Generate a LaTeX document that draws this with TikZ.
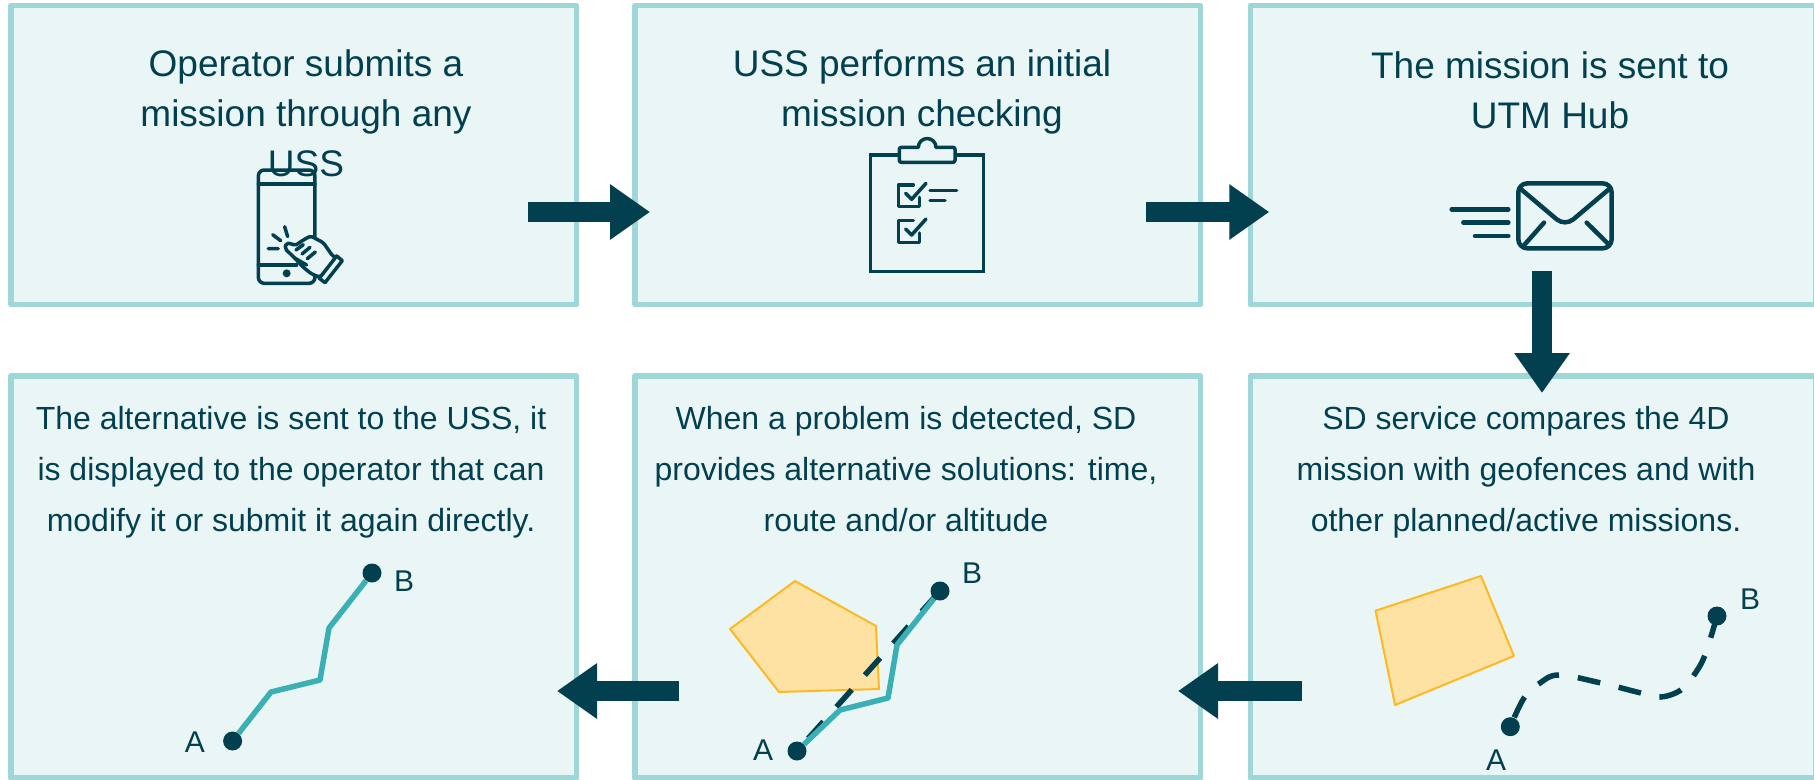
\documentclass[tikz,border=0pt]{standalone}
\usepackage{fontspec}
\setmainfont{Liberation Sans}
\usetikzlibrary{arrows.meta}
\definecolor{darkblue}{HTML}{03404F}
\definecolor{boxfill}{HTML}{EAF6F6}
\definecolor{boxline}{HTML}{9FD6D8}
\definecolor{routeteal}{HTML}{3AAFB4}
\definecolor{zonefill}{HTML}{FDE2A3}
\definecolor{zoneline}{HTML}{FDB924}
\tikzset{
	stepbox/.style={draw=boxline,fill=boxfill,line width=5.5pt,minimum width=565.5pt,inner sep=0pt,outer sep=0pt},
	toptext/.style={text=darkblue,align=center,font=\fontsize{37}{50}\selectfont},
	lowtext/.style={text=darkblue,align=center,font=\fontsize{32}{51}\selectfont},
	flowarrow/.style={draw=darkblue,line width=20pt,-{Triangle[length=40pt,width=53pt]}},
	icon/.style={draw=darkblue,line width=3.5pt,line cap=round,line join=round},
	zone/.style={draw=zoneline,fill=zonefill,line width=2pt,line join=round},
	route/.style={draw=routeteal,line width=5.5pt,line join=round},
	plan/.style={draw=darkblue,line width=5.5pt},
	pin/.style={circle,fill=darkblue,minimum size=19pt,inner sep=0pt},
	pinlabel/.style={text=darkblue,inner sep=0pt,font=\fontsize{30}{30}\selectfont},
}
\begin{document}
\begin{tikzpicture}[x=1pt,y=-1pt,line join=round]
	\useasboundingbox (0,0) rectangle (1814,779);
	% Upper row
	\node[stepbox,minimum height=299pt] (box1) at (293.75,155) {};
	\node[stepbox,minimum height=299pt] (box2) at (917.75,155) {};
	\node[stepbox,minimum height=299pt] (box3) at (1533,155) {};
	% Lower row
	\node[stepbox,minimum height=402pt] (box4) at (1533,577) {};
	\node[stepbox,minimum height=402pt] (box5) at (917.75,577) {};
	\node[stepbox,minimum height=402pt] (box6) at (293.75,577) {};
	
	\node[toptext] (text1) at (306,113) {Operator submits a\\mission through any\\USS};
	\node[toptext] (text2) at (922,91.5) {USS performs an initial\\mission checking};
	\node[toptext] (text3) at (1550,90) {The mission is sent to\\UTM Hub};
	\node[lowtext] (text4) at (1526,472.5) {SD service compares the 4D\\mission with geofences and with\\other planned/active missions.};
	\node[lowtext] (text5) at (906,469.5) {When a problem is detected, SD\\provides alternative solutions: time,\\route and/or altitude};
	\node[lowtext] (text6) at (291,472.5) {The alternative is sent to the USS, it\\is displayed to the operator that can\\modify it or submit it again directly.};
	
	% Phone
	\begin{scope}[shift={(240,150)},x=0.3333pt,y=-0.3333pt]
		\draw[icon,rounded corners=6pt] (55,60) rectangle (225,400);
		\draw[icon] (55,102)--(225,102) (55,345)--(170,345);
		\fill[darkblue] (140,370) circle(4pt);
		\draw[icon] (85,296)--(115,296) (98,254)--(122,272) (134,230)--(143,260);
		\draw[icon,fill=boxfill,rounded corners=2pt] (135,296)--(138,280)--(152,280)--(165,287)--(190,270)--(212,258)--(250,278)--(278,318)--(292,326)--(240,382)--(215,372)--(190,352)--(165,325)--cycle;
		\draw[icon] (168,300)--(190,284) (186,312)--(210,292) (202,326)--(226,306) (165,325)--(200,345);
		\draw[icon,fill=boxfill] (290,318)--(307,332)--(255,398)--(238,385)--cycle;
	\end{scope}
	% Clipboard
	\begin{scope}[shift={(850,130)},x=0.3333pt,y=-0.3333pt]
		\draw[icon,line cap=butt,line join=miter] (148,75)--(62,75)--(62,425)--(400,425)--(400,75)--(315,75);
		\draw[icon,rounded corners=2pt] (205,52)--(148,52)--(148,97)--(315,97)--(315,52)--(258,52);
		\draw[icon] (205,52) arc(180:0:8.83pt);
		\foreach \dy in {0,107} {
			\draw[icon,shift={(0,\dy)}] (190,165)--(145,165)--(145,230)--(208,230)--(208,202);
			\draw[icon,shift={(0,\dy)}] (167,190)--(185,208)--(228,160);
		}
		\draw[icon] (240,182)--(320,182) (240,212)--(285,212);
	\end{scope}
	% Envelope
	\begin{scope}[shift={(1440,170)},x=0.3333pt,y=-0.3333pt]
		\draw[icon,line width=4.5pt,rounded corners=9pt] (235,40) rectangle (515,235);
		\draw[icon,line width=4.5pt] (240,55)--(350,148) .. controls (365,160) and (385,160) .. (400,148)--(510,55);
		\draw[icon,line width=4.5pt] (250,228)--(312,158) (440,158)--(505,222);
		\draw[icon,line width=4.5pt] (35,118)--(205,118) (70,158)--(205,158) (105,198)--(205,198);
	\end{scope}
	
	% Box 4: geofence and planned mission
	\draw[zone] (1375.5,610.7)--(1481,576)--(1514,656)--(1395,705)--cycle;
	\node[pin] (a4) at (1510.3,726.7) {};
	\node[pin] (b4) at (1717,616) {};
	\draw[plan,dash pattern=on 23pt off 19pt,dash phase=32pt] plot[smooth,tension=0.6] coordinates {(a4.center) (1524,698) (1540,683) (1559,675) (1601,683) (1641,693) (1661,697) (1681,690) (1694,675) (1705,655) (b4.center)};
	\node[pinlabel] (la4) at (1496,760) {A};
	\node[pinlabel] (lb4) at (1750,599) {B};
	
	% Box 5: detected problem and new route
	\draw[zone] (795,581)--(876,626)--(879,689)--(779,692)--(730,629)--cycle;
	\node[pin] (a5) at (797,751) {};
	\node[pin] (b5) at (940,591) {};
	\draw[plan,dash pattern=on 23pt off 19.6pt,dash phase=26pt] (a5.center)--(b5.center);
	\draw[route] (a5)--(840,710)--(888,698)--(897,645)--(b5);
	\node[pinlabel] (la5) at (763,750) {A};
	\node[pinlabel] (lb5) at (972,573) {B};
	
	% Box 6: alternative route
	\node[pin] (a6) at (232.6,741) {};
	\node[pin] (b6) at (372,573) {};
	\draw[route] (a6)--(271,692)--(320,680)--(329,628)--(b6);
	\node[pinlabel] (la6) at (195,742) {A};
	\node[pinlabel] (lb6) at (404,581) {B};
	
	% Arrows between the steps
	\draw[flowarrow] ([shift={(-49,57)}]box1.east)--([shift={(15,57)}]box2.west);
	\draw[flowarrow] ([shift={(-54.5,57)}]box2.east)--([shift={(19,57)}]box3.west);
	\draw[flowarrow] ([shift={(9,-33.5)}]box3.south)--([shift={(9,17)}]box4.north);
	\draw[flowarrow] ([shift={(52,114)}]box4.west)--([shift={(-22.5,114)}]box5.east);
	\draw[flowarrow] ([shift={(44,114)}]box5.west)--([shift={(-19.5,114)}]box6.east);
\end{tikzpicture}
\end{document}
